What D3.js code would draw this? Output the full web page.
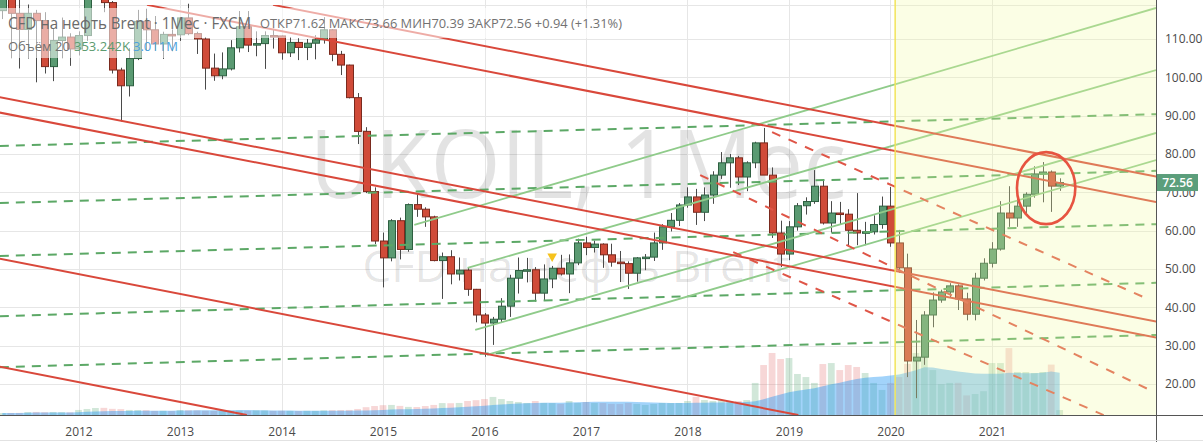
<!DOCTYPE html>
<html>
<head>
<meta charset="utf-8">
<script src="https://cdn.jsdelivr.net/npm/d3@7"></script>
<style>
  html, body { margin: 0; padding: 0; background: #fff; }
  svg { display: block; font-family: "Open Sans", "Liberation Sans", sans-serif; }
</style>
</head>
<body>
<svg id="chart" width="1203" height="442"></svg>
<script>
// UKOIL monthly candles (FXCM), Apr 2011 .. Sep 2021
var months = [
  "2011-04","2011-05","2011-06","2011-07","2011-08","2011-09","2011-10","2011-11","2011-12",
  "2012-01","2012-02","2012-03","2012-04","2012-05","2012-06","2012-07","2012-08","2012-09","2012-10","2012-11","2012-12",
  "2013-01","2013-02","2013-03","2013-04","2013-05","2013-06","2013-07","2013-08","2013-09","2013-10","2013-11","2013-12",
  "2014-01","2014-02","2014-03","2014-04","2014-05","2014-06","2014-07","2014-08","2014-09","2014-10","2014-11","2014-12",
  "2015-01","2015-02","2015-03","2015-04","2015-05","2015-06","2015-07","2015-08","2015-09","2015-10","2015-11","2015-12",
  "2016-01","2016-02","2016-03","2016-04","2016-05","2016-06","2016-07","2016-08","2016-09","2016-10","2016-11","2016-12",
  "2017-01","2017-02","2017-03","2017-04","2017-05","2017-06","2017-07","2017-08","2017-09","2017-10","2017-11","2017-12",
  "2018-01","2018-02","2018-03","2018-04","2018-05","2018-06","2018-07","2018-08","2018-09","2018-10","2018-11","2018-12",
  "2019-01","2019-02","2019-03","2019-04","2019-05","2019-06","2019-07","2019-08","2019-09","2019-10","2019-11","2019-12",
  "2020-01","2020-02","2020-03","2020-04","2020-05","2020-06","2020-07","2020-08","2020-09","2020-10","2020-11","2020-12",
  "2021-01","2021-02","2021-03","2021-04","2021-05","2021-06","2021-07","2021-08","2021-09"
];
var open = [
  117.4,125.9,116.7,112.5,116.7,114.8,102.8,109.6,110.5,
  107.4,110.9,122.7,122.9,119.5,101.9,97.8,104.9,114.6,112.4,108.7,111.2,
  111.1,115.5,111.4,110.0,102.4,100.4,102.2,107.7,113.2,108.4,108.8,110.9,
  110.8,106.4,109.1,107.8,108.9,109.8,112.4,106.0,103.2,94.7,85.9,70.2,
  57.3,52.9,62.6,55.1,66.8,65.6,63.6,52.2,53.2,48.7,49.7,44.7,
  38.0,35.9,36.9,40.3,47.6,49.6,49.8,43.7,47.4,50.2,48.7,51.6,
  56.8,55.6,56.5,53.7,51.8,51.4,48.9,52.9,53.1,56.8,61.0,62.7,
  66.7,68.8,64.8,69.3,74.5,77.7,79.0,74.0,77.7,82.9,74.5,59.4,
  53.9,61.0,66.5,67.6,71.6,62.0,64.6,64.3,60.1,59.4,59.7,61.6,
  66.4,56.8,50.3,26.0,27.0,38.0,41.9,44.0,45.6,42.2,38.2,47.6,
  51.5,55.2,64.6,63.3,66.4,69.5,74.8,75.3,71.62
];
var high = [
  127.0,126.0,121.0,119.0,117.6,117.0,112.6,115.6,111.5,
  112.0,123.5,128.4,124.0,119.9,102.5,107.6,117.6,117.9,116.0,111.9,112.5,
  115.6,119.2,111.9,110.5,106.2,106.5,109.7,117.3,117.3,112.0,112.0,112.7,
  110.9,110.5,110.2,110.0,111.0,115.7,112.6,106.9,103.3,95.9,87.0,71.3,
  59.5,63.0,63.4,67.1,69.6,66.1,63.9,54.3,54.9,53.0,50.3,44.8,
  38.5,37.5,42.4,48.5,53.0,52.9,50.5,51.2,50.8,53.7,53.8,57.9,
  58.4,57.4,56.7,56.6,54.7,52.0,53.1,53.9,59.5,61.7,64.6,67.2,
  71.3,70.9,71.3,75.5,80.5,80.0,79.5,78.1,83.2,86.8,76.5,62.6,
  62.5,67.2,68.7,75.8,73.0,67.7,67.5,65.6,69.8,62.3,64.0,68.9,
  71.4,60.2,54.0,36.7,39.0,43.9,44.6,46.3,46.0,43.8,49.0,52.8,
  57.0,67.7,71.6,68.8,70.0,76.8,77.9,75.7,73.66
];
var low = [
  115.2,105.0,102.3,104.9,98.7,101.0,99.0,105.0,103.0,
  105.7,109.5,121.0,117.0,101.0,88.5,95.0,104.5,107.0,107.0,104.8,106.8,
  109.5,111.0,106.1,96.8,99.1,99.5,101.8,106.5,106.6,105.5,102.2,107.5,
  104.6,105.3,104.5,104.5,104.7,108.8,104.2,100.6,94.5,82.6,69.8,56.5,
  45.2,52.0,52.5,54.5,63.6,61.0,52.0,42.2,46.0,47.0,43.0,36.1,
  27.1,30.2,35.9,37.5,43.6,46.5,41.5,41.8,45.0,48.3,43.7,51.0,
  53.6,54.3,50.3,50.6,46.6,44.8,46.7,49.7,52.1,55.0,59.8,61.2,
  66.0,61.5,62.5,67.0,73.5,71.2,71.9,70.3,76.3,74.8,58.1,50.5,
  52.3,60.0,64.2,67.0,61.6,59.5,61.6,56.2,56.2,56.2,59.0,60.5,
  55.8,49.0,21.8,16.3,25.0,34.8,41.2,42.5,39.3,36.6,36.6,47.0,
  50.4,54.8,61.0,61.0,64.5,68.6,67.4,64.9,70.39
];
var close = [
  125.9,116.7,112.5,116.7,114.8,102.8,109.6,110.5,107.4,
  110.9,122.7,122.9,119.5,101.9,97.8,104.9,114.6,112.4,108.7,111.2,111.1,
  115.5,111.4,110.0,102.4,100.4,102.2,107.7,113.2,108.4,108.8,110.9,110.8,
  106.4,109.1,107.8,108.9,109.8,112.4,106.0,103.2,94.7,85.9,70.2,57.3,
  52.9,62.6,55.1,66.8,65.6,63.6,52.2,53.2,48.7,49.7,44.7,38.0,
  35.9,36.9,40.3,47.6,49.6,49.8,43.7,47.4,50.2,48.7,51.6,56.8,
  55.6,56.5,53.7,51.8,51.4,48.9,52.9,53.1,56.8,61.0,62.7,66.7,
  68.8,64.8,69.3,74.5,77.7,79.0,74.0,77.7,82.9,74.5,59.4,53.9,
  61.0,66.5,67.6,71.6,62.0,64.6,64.3,60.1,59.4,59.7,61.6,66.4,
  56.8,50.3,26.0,27.0,38.0,41.9,44.0,45.6,42.2,38.2,47.6,51.5,
  55.2,64.6,63.3,66.4,69.5,74.8,75.3,71.62,72.56
];
// volume, thousands
var volume = [
  140,145,150,210,220,200,215,205,190,
  360,430,500,510,440,420,360,350,345,290,300,280,
  350,340,330,300,290,280,300,310,300,330,320,290,
  300,290,280,300,290,330,340,350,360,430,560,640,
  700,720,650,580,570,640,720,850,840,860,1000,1060,
  1140,1290,1140,1000,930,860,1000,860,850,790,1000,860,
  930,860,850,790,780,860,790,720,790,860,850,860,
  1000,1290,1070,1000,1070,1000,1000,1070,2290,3570,4430,4000,
  4070,2930,2710,2290,3640,3710,3210,3570,3430,3000,2290,1790,
  2290,2710,3650,4430,6500,3210,2200,2290,2300,1400,1500,1700,
  3710,3710,4780,3070,3070,3000,3070,3600,353.242
];
var maLength = 20;

var years = [2012,2013,2014,2015,2016,2017,2018,2019,2020,2021];
var priceTicks = [20,30,40,50,60,70,80,90,100,110];

// drawn lines: [month index from Jan 2012, price]
var redLines = [
  [[-9.3, 94.8], [127.4, 36.3]],
  [[-9.3, 90.8], [127.4, 32.1]],
  [[-9.3, 52.7], [85.1, 11.9]],
  [[-9.3, 24.5], [19.9, 11.9]],
  [[23.0, 118.9], [127.4, 74.1]],
  [[8.1, 118.9], [127.4, 67.5]]
];
var redDashed = [
  [[82.0, 85.7], [126.7, 41.9]],
  [[73.5, 74.5], [126.7, 18.4]],
  [[77.4, 54.4], [121.2, 11.9]]
];
var greenLines = [
  [[39.7, 61.5], [127.4, 118.1]],
  [[46.0, 50.3], [127.4, 101.9]],
  [[46.9, 34.1], [127.4, 85.5]],
  [[48.3, 27.6], [127.4, 78.4]]
];
var greenDashed = [
  [[-9.3, 82.1], [127.4, 90.4]],
  [[-9.3, 67.2], [127.4, 75.6]],
  [[-9.3, 53.4], [127.4, 61.7]],
  [[-9.3, 37.7], [127.4, 46.4]],
  [[-9.3, 24.4], [127.4, 32.8]]
];
var highlightFrom = 96.55;
var circleNote = { month: 114.4, price: 71.1, halfMonths: 3.45, halfPrice: 9.4 };
var markerNote = { month: "2016-09", price: 53.3 };
var lastPrice = 72.56;

var W = 1203, H = 442, plotR = 1156, plotB = 415;

function mi(s) {
  var p = s.split("-");
  return (+p[0] - 2012) * 12 + (+p[1] - 1);
}

var x = d3.scaleLinear().domain([0, 108]).range([78.5, 992]);
var y = d3.scaleLinear().domain([20, 110]).range([384, 39]);
var yv = d3.scaleLinear().domain([0, 1000]).range([plotB, plotB - 14]);

var candles = months.map(function(m, i) {
  return { m: mi(m), o: open[i], h: high[i], l: low[i], c: close[i], v: volume[i] };
});
candles.forEach(function(d, i) {
  var w = volume.slice(Math.max(0, i - maLength + 1), i + 1);
  d.ma = d3.mean(w);
});

var svg = d3.select("#chart");
var defs = svg.append("defs");
defs.append("clipPath").attr("id", "plot")
  .append("rect").attr("x", 0).attr("y", 0).attr("width", plotR).attr("height", plotB);
defs.append("clipPath").attr("id", "lines")
  .append("rect").attr("x", 0).attr("y", 5).attr("width", plotR).attr("height", plotB - 5);

svg.append("rect").attr("width", W).attr("height", H).attr("fill", "#fff");

// grid
var grid = svg.append("g").attr("stroke", "#e6e6e6").attr("stroke-width", 1);
grid.selectAll("line.h").data(priceTicks).enter().append("line")
  .attr("x1", 0).attr("x2", plotR)
  .attr("y1", function(d) { return Math.round(y(d)) + 0.5; })
  .attr("y2", function(d) { return Math.round(y(d)) + 0.5; });
grid.selectAll("line.v").data(years).enter().append("line")
  .attr("y1", 0).attr("y2", plotB)
  .attr("x1", function(d) { return Math.round(x(mi(d + "-01"))) + 0.5; })
  .attr("x2", function(d) { return Math.round(x(mi(d + "-01"))) + 0.5; });
grid.append("line").attr("x1", 0).attr("x2", plotR).attr("y1", 5.5).attr("y2", 5.5);

// watermark
var wm = svg.append("g").attr("fill", "rgba(0,0,0,0.11)").attr("text-anchor", "middle");
wm.append("text").attr("x", 578).attr("y", 198).attr("font-size", 96)
  .attr("textLength", 537).attr("lengthAdjust", "spacingAndGlyphs").text("UKOIL, 1Мес");
wm.append("text").attr("x", 576).attr("y", 282).attr("font-size", 44)
  .attr("textLength", 427).attr("lengthAdjust", "spacingAndGlyphs").text("CFD на нефть Brent");

var plot = svg.append("g").attr("clip-path", "url(#plot)");

// volume
var bw = (x(1) - x(0)) * 0.8;
plot.append("g").selectAll("rect").data(candles).enter().append("rect")
  .attr("x", function(d) { return x(d.m) - bw / 2; })
  .attr("width", bw)
  .attr("y", function(d) { return yv(d.v); })
  .attr("height", function(d) { return plotB - yv(d.v); })
  .attr("fill", function(d) { return d.c >= d.o ? "rgba(90,170,120,0.28)" : "rgba(225,110,110,0.28)"; });
plot.append("path").datum(candles)
  .attr("fill", "rgba(33,150,243,0.42)")
  .attr("d", d3.area().x(function(d) { return x(d.m); }).y0(plotB).y1(function(d) { return yv(d.ma); }));

// candles
var cw = (x(1) - x(0)) * 0.78;
var cg = plot.append("g").selectAll("g").data(candles).enter().append("g");
cg.append("line")
  .attr("x1", function(d) { return Math.round(x(d.m)) + 0.5; })
  .attr("x2", function(d) { return Math.round(x(d.m)) + 0.5; })
  .attr("y1", function(d) { return y(d.h); })
  .attr("y2", function(d) { return y(d.l); })
  .attr("stroke", "#4a4a4a").attr("stroke-width", 1);
cg.append("rect")
  .attr("x", function(d) { return Math.round(x(d.m) - cw / 2) + 0.5; })
  .attr("width", Math.round(cw))
  .attr("y", function(d) { return y(Math.max(d.o, d.c)); })
  .attr("height", function(d) { return Math.max(1.5, Math.abs(y(d.o) - y(d.c))); })
  .attr("fill", function(d) { return d.c >= d.o ? "#5a9a72" : "#d04b39"; })
  .attr("stroke", function(d) { return d.c >= d.o ? "#2d5f40" : "#7a2a1e"; })
  .attr("stroke-width", 1);

// trend lines
var lg = svg.append("g").attr("clip-path", "url(#lines)").attr("fill", "none");
function seg(g, data, color, width, dash) {
  g.selectAll(null).data(data).enter().append("line")
    .attr("x1", function(d) { return x(d[0][0]); })
    .attr("y1", function(d) { return y(d[0][1]); })
    .attr("x2", function(d) { return x(d[1][0]); })
    .attr("y2", function(d) { return y(d[1][1]); })
    .attr("stroke", color).attr("stroke-width", width)
    .attr("stroke-dasharray", dash || null);
}
seg(lg, greenDashed, "#5ca866", 2, "9,7");
seg(lg, greenLines, "#8fcb8a", 1.8);
seg(lg, redLines, "#d9483b", 2);
seg(lg, redDashed, "#df5547", 2, "9,9");

// annotations
svg.append("ellipse")
  .attr("cx", x(circleNote.month)).attr("cy", y(circleNote.price))
  .attr("rx", x(circleNote.month + circleNote.halfMonths) - x(circleNote.month))
  .attr("ry", y(circleNote.price - circleNote.halfPrice) - y(circleNote.price))
  .attr("fill", "none").attr("stroke", "#e3141c").attr("stroke-width", 2.6);
svg.append("path")
  .attr("transform", "translate(" + x(mi(markerNote.month)) + "," + y(markerNote.price) + ") rotate(180)")
  .attr("d", d3.symbol(d3.symbolTriangle, 40)())
  .attr("fill", "#f6c21c");

// highlighted period
svg.append("rect")
  .attr("x", x(highlightFrom)).attr("y", 0)
  .attr("width", plotR - x(highlightFrom)).attr("height", plotB)
  .attr("fill", "rgb(240,250,160)").attr("fill-opacity", 0.28);
svg.append("line")
  .attr("x1", x(highlightFrom)).attr("x2", x(highlightFrom))
  .attr("y1", 0).attr("y2", plotB)
  .attr("stroke", "#f2e45a").attr("stroke-width", 1.5);

// legend
svg.append("rect").attr("x", 0).attr("y", 8).attr("width", 630).attr("height", 30)
  .attr("fill", "#fff").attr("fill-opacity", 0.55);
svg.append("rect").attr("x", 0).attr("y", 38).attr("width", 178).attr("height", 20)
  .attr("fill", "#fff").attr("fill-opacity", 0.55);
svg.append("text").attr("x", 8).attr("y", 29).attr("font-size", 16).attr("fill", "#6a6a6a")
  .attr("textLength", 243).attr("lengthAdjust", "spacingAndGlyphs")
  .text("CFD на нефть Brent · 1Мес · FXCM");
svg.append("text").attr("x", 260).attr("y", 28).attr("font-size", 13).attr("fill", "#727272")
  .attr("textLength", 362).attr("lengthAdjust", "spacingAndGlyphs")
  .text("ОТКР71.62 МАКС73.66 МИН70.39 ЗАКР72.56 +0.94 (+1.31%)");
var l2 = svg.append("g").attr("font-size", 13);
l2.append("text").attr("x", 8).attr("y", 51).attr("fill", "#727272").text("Объём 20");
l2.append("text").attr("x", 74).attr("y", 51).attr("fill", "#5b9b6f").text("353.242K");
l2.append("text").attr("x", 133).attr("y", 51).attr("fill", "#4da2dc").text("3.011M");

// axes
var ya = svg.append("g").attr("transform", "translate(" + plotR + ",0)")
  .call(d3.axisRight(y).tickValues(priceTicks).tickFormat(d3.format(".2f")).tickSize(0).tickPadding(9));
ya.select(".domain").remove();
ya.selectAll("text").attr("font-size", 12).attr("fill", "#4a4a4a").attr("font-family", "Open Sans, sans-serif");

var xa = svg.append("g").attr("transform", "translate(0," + plotB + ")")
  .call(d3.axisBottom(x).tickValues(years.map(function(d) { return mi(d + "-01"); }))
    .tickFormat(function(d, i) { return years[i]; }).tickSize(0).tickPadding(12));
xa.select(".domain").remove();
xa.selectAll("text").attr("font-size", 12).attr("fill", "#4a4a4a").attr("font-family", "Open Sans, sans-serif");

svg.append("line").attr("x1", 0).attr("x2", W).attr("y1", plotB + 0.5).attr("y2", plotB + 0.5)
  .attr("stroke", "#555");
svg.append("line").attr("x1", plotR + 0.5).attr("x2", plotR + 0.5).attr("y1", 0).attr("y2", H)
  .attr("stroke", "#555");
svg.append("line").attr("x1", 0).attr("x2", W).attr("y1", 440.5).attr("y2", 440.5)
  .attr("stroke", "#e2e2e2");

// last price tag
svg.append("rect").attr("x", plotR + 1).attr("y", y(lastPrice) - 8.5).attr("width", 41).attr("height", 17)
  .attr("fill", "#5b9e7b");
svg.append("text").attr("x", plotR + 21.5).attr("y", y(lastPrice)).attr("dy", "0.35em")
  .attr("text-anchor", "middle").attr("font-size", 12).attr("font-weight", 600).attr("fill", "#fff")
  .text(d3.format(".2f")(lastPrice));
</script>
</body>
</html>
